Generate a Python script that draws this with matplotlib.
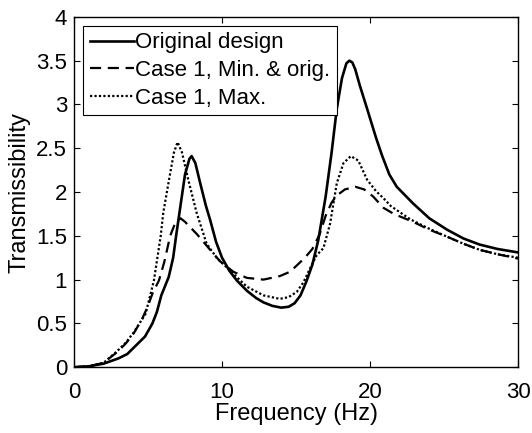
import matplotlib
matplotlib.use('Agg')
import matplotlib.pyplot as plt

# values
freq_orig = [0, 1, 2, 3, 3.6, 4.2, 4.8, 5.3, 5.6, 5.9, 6.4, 6.7, 6.9, 7.2, 7.5, 7.8, 7.95,
             8.2, 8.5, 8.9, 9.2, 9.6, 10.0, 10.5, 11.0, 11.7, 12.3, 12.8, 13.4, 14.0,
             14.5, 14.9, 15.3, 15.7, 16.1, 16.5, 17.0, 17.4, 17.75, 18.1, 18.4, 18.6,
             18.8, 19.0, 19.3, 19.8, 20.4, 20.8, 21.3, 21.8, 22.9, 24.0, 25.2, 26.3,
             27.4, 28.6, 30]
trans_orig = [0, 0.01, 0.04, 0.10, 0.15, 0.25, 0.35, 0.5, 0.63, 0.82, 1.03, 1.25, 1.5,
              1.85, 2.2, 2.38, 2.41, 2.33, 2.12, 1.85, 1.68, 1.43, 1.25, 1.10, 0.99,
              0.87, 0.79, 0.74, 0.70, 0.68, 0.69, 0.73, 0.82, 0.98, 1.17, 1.45, 1.95,
              2.45, 2.95, 3.3, 3.47, 3.50, 3.48, 3.40, 3.22, 2.95, 2.62, 2.42, 2.2,
              2.06, 1.87, 1.70, 1.57, 1.47, 1.40, 1.35, 1.31]

freq_min = [0, 1, 2, 2.9, 3.5, 4.05, 4.6, 5.0, 5.3, 5.74, 6.1, 6.5, 6.8, 7.2, 7.5, 8.3,
            9.2, 9.86, 10.76, 11.67, 12.8, 13.9, 14.6, 15.1, 15.6, 16.1, 16.6, 17.0,
            17.4, 17.75, 18.3, 19.0, 19.6, 20.2, 20.9, 21.6, 22.9, 24.0, 25.2, 26.3,
            27.4, 28.6, 30]
trans_min = [0, 0.01, 0.05, 0.17, 0.27, 0.39, 0.55, 0.70, 0.84, 0.99, 1.2, 1.5, 1.63,
             1.70, 1.66, 1.52, 1.34, 1.21, 1.09, 1.02, 1.0, 1.04, 1.09, 1.17, 1.25,
             1.35, 1.52, 1.73, 1.88, 1.96, 2.03, 2.06, 2.03, 1.95, 1.82, 1.75, 1.66,
             1.57, 1.49, 1.41, 1.34, 1.29, 1.24]

freq_max = [0, 1, 2, 2.9, 3.5, 4.05, 4.84, 5.4, 5.86, 6.03, 6.42, 6.75, 7.0, 7.3, 7.72,
            8.29, 8.96, 9.64, 10.5, 11.67, 12.8, 13.9, 14.5, 15.05, 15.5, 15.95, 16.4,
            16.85, 17.3, 17.75, 18.2, 18.7, 19.2, 19.8, 20.4, 20.9, 21.4, 22.7, 24.0,
            25.2, 26.3, 27.4, 28.6, 30]
trans_max = [0, 0.01, 0.05, 0.18, 0.28, 0.40, 0.61, 0.99, 1.5, 1.76, 2.14, 2.45, 2.57,
             2.45, 2.14, 1.76, 1.41, 1.25, 1.11, 0.92, 0.82, 0.78, 0.80, 0.86, 0.97,
             1.13, 1.28, 1.36, 1.64, 2.10, 2.33, 2.41, 2.36, 2.14, 2.01, 1.93, 1.84,
             1.69, 1.58, 1.49, 1.41, 1.34, 1.29, 1.25]

labels = ['Original design', 'Case 1, Min. & orig.', 'Case 1, Max.']
x_ticks = [0, 10, 20, 30]
y_ticks = [0, 0.5, 1, 1.5, 2, 2.5, 3, 3.5, 4]
y_tick_labels = ['0', '0.5', '1', '1.5', '2', '2.5', '3', '3.5', '4']

plt.rcParams.update({
    'font.family': ['Liberation Sans', 'DejaVu Sans'],
    'font.size': 16,
    'xtick.direction': 'in',
    'ytick.direction': 'in',
    'xtick.top': True,
    'ytick.right': True,
})

fig = plt.figure(figsize=(5.32, 4.33), dpi=100)
ax = fig.add_axes([0.139, 0.152, 0.835, 0.809])

ax.plot(freq_orig, trans_orig, color='black', linestyle='-', linewidth=1.9, label=labels[0])
ax.plot(freq_min, trans_min, color='black', linestyle=(0, (5, 3)), linewidth=1.6, label=labels[1])
ax.plot(freq_max, trans_max, color='black', linestyle=(0, (1, 1)), linewidth=1.6, label=labels[2])

ax.set_xlim(0, 30)
ax.set_ylim(0, 4)
ax.set_xticks(x_ticks)
ax.set_yticks(y_ticks)
ax.set_yticklabels(y_tick_labels)
ax.tick_params(labelsize=16, length=4, width=0.8)
ax.tick_params(axis='x', pad=11)
ax.tick_params(axis='y', pad=5)
ax.set_xlabel('Frequency (Hz)', fontsize=17, labelpad=0)
ax.set_ylabel('Transmissibility', fontsize=17, labelpad=4)
for s in ax.spines.values():
    s.set_linewidth(1.0)

leg = ax.legend(loc='upper left', fontsize=16, handlelength=2.0, handletextpad=0.05,
                labelspacing=0.3, borderaxespad=0.4, borderpad=0.3, fancybox=False,
                framealpha=1, edgecolor='black')
leg.get_frame().set_linewidth(0.8)

fig.savefig('out.png', dpi=100)
